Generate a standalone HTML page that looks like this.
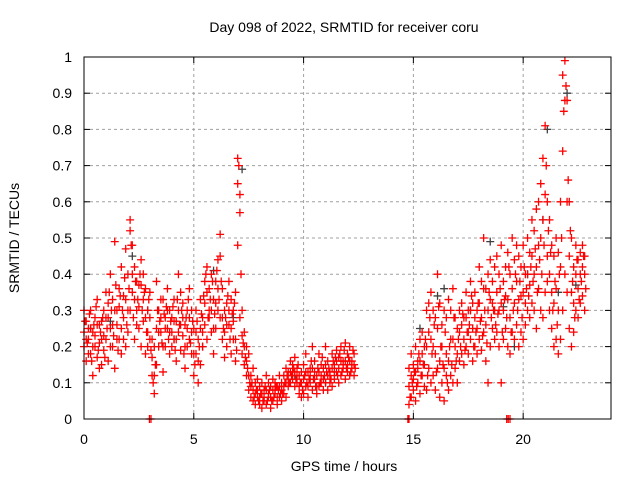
<!DOCTYPE html>
<html><head><meta charset="utf-8"><style>
body{margin:0;background:#fff}
svg{display:block;font-family:"Liberation Sans",sans-serif}
</style></head><body>
<svg id="chart" width="640" height="480">
<text x="344" y="32" text-anchor="middle" font-size="14">Day 098 of 2022, SRMTID for receiver coru</text>
<text transform="translate(19,238) rotate(-90)" text-anchor="middle" font-size="14">SRMTID / TECUs</text>
<text x="344" y="471" text-anchor="middle" font-size="14">GPS time / hours</text>
<g id="grid"></g>
<g id="marks"></g>
<rect x="84" y="57" width="527" height="362" fill="none" stroke="#000" stroke-width="1"/>
</svg>
<script>
const xTicks=[0,5,10,15,20];
const yTicks=[0,0.1,0.2,0.3,0.4,0.5,0.6,0.7,0.8,0.9,1];
const yTickLabels=["0","0.1","0.2","0.3","0.4","0.5","0.6","0.7","0.8","0.9","1"];
const seg1Start=0.0, seg1OffStart=0.05, seg2Start=14.8, seg2OffStart=14.85, step=0.1;
const seg1A=[0.30,0.27,0.25,0.30,0.24,0.28,0.33,0.26,0.22,0.30,0.35,0.28,0.40,0.33,0.49,0.30,0.36,0.42,0.34,0.47,0.40,0.55,0.48,0.42,0.38,0.37,0.44,0.40,0.36,0.30,0.35,0.22,0.20,0.38,0.30,0.28,0.33,0.25,0.36,0.30,0.28,0.33,0.27,0.40,0.35,0.32,0.26,0.30,0.36,0.30,0.25,0.30,0.22,0.33,0.28,0.38,0.42,0.36,0.40,0.33,0.38,0.44,0.51,0.36,0.30,0.32,0.38,0.33,0.30,0.35,0.72,0.62,0.30,0.24,0.20,0.18,0.12,0.14,0.10,0.11,0.09,0.10,0.08,0.12,0.10,0.09,0.11,0.10,0.09,0.12,0.10,0.12,0.14,0.13,0.16,0.15,0.17,0.14,0.12,0.13,0.15,0.18,0.13,0.14,0.20,0.16,0.12,0.18,0.15,0.14,0.20,0.16,0.13,0.18,0.15,0.19,0.17,0.20,0.16,0.21,0.18,0.20,0.16,0.18];
const seg1B=[0.20,0.16,0.22,0.18,0.12,0.20,0.17,0.21,0.15,0.19,0.22,0.16,0.25,0.20,0.14,0.26,0.22,0.18,0.28,0.20,0.24,0.30,0.35,0.22,0.26,0.31,0.20,0.27,0.18,0.24,0.22,0.12,0.07,0.15,0.20,0.24,0.13,0.20,0.25,0.18,0.20,0.22,0.16,0.24,0.19,0.23,0.14,0.20,0.22,0.18,0.12,0.18,0.10,0.15,0.20,0.26,0.22,0.28,0.24,0.18,0.25,0.30,0.28,0.22,0.17,0.20,0.26,0.18,0.22,0.16,0.48,0.28,0.18,0.15,0.12,0.08,0.06,0.05,0.04,0.06,0.04,0.03,0.05,0.04,0.06,0.03,0.05,0.07,0.04,0.06,0.05,0.07,0.06,0.09,0.10,0.11,0.09,0.10,0.07,0.06,0.07,0.09,0.06,0.10,0.08,0.11,0.07,0.09,0.10,0.08,0.10,0.08,0.12,0.09,0.11,0.13,0.10,0.12,0.14,0.11,0.13,0.12,0.14,0.12];
const seg1C=[0.24,0.22,0.18,0.25,0.20,0.23,0.26,0.14,0.27,0.23,0.28,0.32,0.20,0.26,0.30,0.22,0.31,0.25,0.22,0.33,0.30,0.52,0.40,0.33,0.30,0.25,0.37,0.33,0.28,0.20,0.28,0.17,0.12,0.25,0.24,0.33,0.20,0.28,0.30,0.24,0.24,0.27,0.22,0.30,0.26,0.28,0.20,0.25,0.28,0.24,0.18,0.24,0.16,0.25,0.24,0.32,0.35,0.30,0.30,0.25,0.32,0.36,0.45,0.28,0.24,0.26,0.30,0.25,0.27,0.22,0.65,0.57,0.23,0.20,0.16,0.12,0.09,0.08,0.07,0.08,0.06,0.07,0.06,0.08,0.07,0.06,0.08,0.08,0.06,0.09,0.08,0.09,0.10,0.11,0.13,0.13,0.13,0.12,0.09,0.10,0.11,0.13,0.09,0.12,0.14,0.13,0.09,0.13,0.12,0.11,0.15,0.12,0.10,0.14,0.13,0.16,0.14,0.16,0.15,0.16,0.15,0.16,0.15,0.15];
const seg1D=[0.27,0.21,0.29,0.16,0.26,0.31,0.19,0.24,0.28,0.17,0.25,0.35,0.30,0.23,0.37,0.19,0.34,0.30,0.39,0.26,0.36,0.48,0.28,0.38,0.33,0.40,0.30,0.35,0.24,0.33,0.19,0.10,0.15,0.30,0.27,0.21,0.29,0.31,0.22,0.27,0.31,0.19,0.33,0.26,0.30,0.18,0.28,0.33,0.21,0.27,0.15,0.27,0.20,0.29,0.34,0.40,0.28,0.33,0.38,0.29,0.41,0.33,0.38,0.25,0.28,0.34,0.22,0.29,0.32,0.19,0.70,0.40,0.21,0.17,0.14,0.10,0.10,0.06,0.08,0.05,0.07,0.05,0.09,0.05,0.08,0.05,0.06,0.09,0.08,0.07,0.07,0.10,0.12,0.10,0.12,0.14,0.11,0.15,0.10,0.08,0.12,0.10,0.11,0.16,0.11,0.09,0.14,0.10,0.17,0.12,0.13,0.14,0.11,0.16,0.17,0.12,0.18,0.13,0.19,0.14,0.17,0.13,0.19,0.14];
const seg2A=[0.14,0.18,0.15,0.20,0.16,0.22,0.24,0.20,0.30,0.32,0.35,0.30,0.28,0.40,0.32,0.26,0.30,0.28,0.33,0.30,0.36,0.28,0.25,0.30,0.32,0.28,0.35,0.30,0.38,0.32,0.35,0.30,0.42,0.38,0.50,0.36,0.40,0.44,0.38,0.42,0.45,0.40,0.48,0.38,0.42,0.46,0.40,0.50,0.44,0.48,0.45,0.42,0.48,0.40,0.50,0.46,0.55,0.52,0.58,0.60,0.65,0.72,0.81,0.60,0.55,0.48,0.45,0.50,0.46,0.60,0.95,0.99,0.88,0.60,0.50,0.42,0.48,0.44,0.46,0.48,0.45];
const seg2B=[0.04,0.06,0.08,0.05,0.10,0.07,0.12,0.09,0.08,0.14,0.10,0.12,0.08,0.14,0.06,0.10,0.05,0.12,0.08,0.12,0.10,0.14,0.10,0.16,0.18,0.15,0.20,0.18,0.22,0.16,0.20,0.18,0.22,0.19,0.24,0.16,0.10,0.20,0.25,0.22,0.24,0.20,0.10,0.22,0.25,0.20,0.18,0.24,0.22,0.26,0.20,0.24,0.22,0.26,0.30,0.28,0.32,0.30,0.25,0.36,0.30,0.28,0.35,0.38,0.30,0.25,0.20,0.22,0.18,0.22,0.30,0.40,0.35,0.25,0.20,0.24,0.30,0.28,0.32,0.34,0.30];
const seg2C=[0.09,0.12,0.11,0.13,0.14,0.16,0.18,0.15,0.20,0.24,0.22,0.20,0.18,0.25,0.16,0.20,0.14,0.18,0.16,0.22,0.22,0.20,0.18,0.24,0.26,0.22,0.28,0.24,0.30,0.25,0.28,0.25,0.32,0.28,0.36,0.26,0.30,0.33,0.32,0.30,0.35,0.30,0.32,0.30,0.34,0.33,0.28,0.36,0.32,0.38,0.33,0.34,0.35,0.32,0.40,0.37,0.45,0.40,0.42,0.48,0.50,0.55,0.62,0.45,0.40,0.35,0.32,0.36,0.30,0.42,0.74,0.88,0.60,0.45,0.35,0.32,0.40,0.36,0.40,0.42,0.40];
const seg2D=[0.06,0.10,0.13,0.09,0.18,0.12,0.15,0.22,0.12,0.28,0.18,0.26,0.13,0.31,0.20,0.15,0.24,0.10,0.20,0.15,0.28,0.16,0.22,0.20,0.29,0.19,0.24,0.26,0.34,0.20,0.24,0.32,0.27,0.23,0.30,0.21,0.35,0.28,0.30,0.26,0.29,0.36,0.24,0.33,0.28,0.42,0.24,0.30,0.40,0.30,0.38,0.28,0.42,0.36,0.34,0.42,0.38,0.47,0.35,0.44,0.40,0.48,0.70,0.52,0.46,0.30,0.38,0.26,0.40,0.50,0.85,0.92,0.66,0.52,0.38,0.28,0.44,0.33,0.38,0.45,0.36];
const darkTimes=[0.3,1.2,2.2,2.9,4.1,5.4,5.9,6.8,7.2,9.6,11.0,15.3,16.1,16.4,17.6,18.5,19.1,19.6,20.2,20.9,21.1,21.6,22.0,22.4];
const darkValues=[0.25,0.27,0.45,0.30,0.22,0.20,0.41,0.28,0.69,0.12,0.10,0.25,0.34,0.36,0.30,0.49,0.31,0.20,0.40,0.55,0.80,0.35,0.90,0.37];
const zeroTimes=[2.98,3.05,14.75,14.8,19.25,19.32,19.4];

const X0=84,X1=611,Y0=419,Y1=57,XMAX=24;
const xs=v=>X0+(v/XMAX)*(X1-X0);
const ys=v=>Y0-v*(Y0-Y1);
const NS="http://www.w3.org/2000/svg";
const grid=document.getElementById('grid'), marks=document.getElementById('marks'), svg=document.getElementById('chart');
function mk(tag,attrs,parent){const e=document.createElementNS(NS,tag);for(const k in attrs)e.setAttribute(k,attrs[k]);parent.appendChild(e);return e;}
xTicks.forEach(t=>{
  const x=xs(t);
  if(t>0){const g=mk('line',{x1:x,x2:x,y1:Y0,y2:Y1,stroke:'#a0a0a0','stroke-dasharray':'3,3'},grid);
  
  }
  mk('line',{x1:x,x2:x,y1:Y0,y2:Y0-6,stroke:'#000'},grid);
  mk('line',{x1:x,x2:x,y1:Y1,y2:Y1+6,stroke:'#000'},grid);
  const l=mk('text',{x:x,y:444,'text-anchor':'middle','font-size':14},svg);
  l.textContent=String(t);
  
  
});
yTicks.forEach((t,i)=>{
  const y=ys(t);
  if(t>0&&t<1){const g=mk('line',{x1:X0,x2:X1,y1:y,y2:y,stroke:'#a0a0a0','stroke-dasharray':'3,3'},grid);
  
  }
  mk('line',{x1:X0,x2:X0+6,y1:y,y2:y,stroke:'#000'},grid);
  mk('line',{x1:X1,x2:X1-6,y1:y,y2:y,stroke:'#000'},grid);
  const l=mk('text',{x:72,y:y+5,'text-anchor':'end','font-size':14},svg);
  l.textContent=yTickLabels[i];
  
  
});
function plus(t,v,color){
  const x=xs(t),y=ys(v);
  const p=mk('path',{d:`M${x-4},${y}H${x+4}M${x},${y-4}V${y+4}`,stroke:color,'stroke-width':1.3,fill:'none'},marks);
  
  
}
darkTimes.forEach((t,i)=>plus(t,darkValues[i],'#404040'));
[[seg1Start,seg1A],[seg1Start,seg1B],[seg1Start,seg1C],[seg1OffStart,seg1D],[seg2Start,seg2A],[seg2Start,seg2B],[seg2Start,seg2C],[seg2OffStart,seg2D]].forEach(([s,arr])=>{
  arr.forEach((v,i)=>plus(s+i*step,v,'#ff0000'));
});
zeroTimes.forEach(t=>plus(t,0,'#ff0000'));
</script>
</body></html>
